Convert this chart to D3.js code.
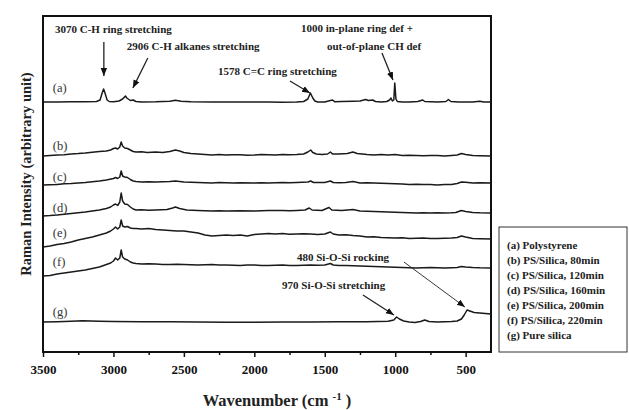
<!DOCTYPE html>
<html>
<head>
<meta charset="utf-8">
<script src="https://cdn.jsdelivr.net/npm/d3@7"></script>
<style>
  body { margin: 0; background: #fff; }
  svg { display: block; font-family: "Liberation Serif", "DejaVu Serif", serif; }
</style>
</head>
<body>
<svg id="chart" width="629" height="410"></svg>
<script>
// Raman spectra, [wavenumber, intensity above the trace's own offset]
const specA = [[3500,0],[3400,0],[3300,0.2],[3200,0.3],[3120,0.5],[3095,2],[3080,9],[3070,13],[3060,9],[3045,2],[3030,0.5],[3000,0.3],
  [2960,1],[2935,3],[2915,6],[2905,4],[2895,3],[2880,1.5],[2860,2],[2840,0.5],[2800,0],[2700,0.2],[2600,0.8],[2560,1.8],[2520,0.8],
  [2450,0.2],[2300,0],[2100,0],[1900,0],[1800,-0.3],[1700,0],[1650,0.5],[1620,3],[1602,9],[1585,4],[1570,1],[1550,0],[1500,0],
  [1460,1.5],[1445,2],[1430,0.3],[1380,0.5],[1300,0.8],[1250,1],[1210,2.5],[1190,1.5],[1160,2],[1140,0.5],[1100,0],[1060,0.5],
  [1040,2],[1030,4],[1020,1],[1010,2],[1003,19],[995,3],[985,0.5],[950,0],[900,0],[840,0.5],[805,2],[790,0.5],[700,0],[640,0.5],
  [622,2.5],[605,0.5],[550,0],[450,0],[400,0.8],[370,0],[320,0]];

const specB = [[3500,0],[3450,0.6],[3400,1],[3350,1.2],[3300,2],[3250,2.4],[3200,3],[3150,3.8],[3100,4.5],[3050,5],[3020,6],[3000,7.5],
  [2985,8],[2970,7],[2955,9],[2945,14],[2935,10],[2920,8],[2900,7.5],[2880,6],[2860,4.5],[2840,4],[2800,4.3],[2760,3.5],[2700,4],
  [2650,3.5],[2600,4.5],[2560,6],[2530,5],[2500,3.5],[2450,2.5],[2400,2],[2350,1.5],[2300,1],[2250,1.4],[2200,1],[2150,1.3],[2100,1.2],
  [2050,0.8],[2000,1],[1950,1.4],[1900,1.3],[1850,1.1],[1800,1.5],[1750,1.2],[1700,1.5],[1650,2],[1620,4],[1600,6],[1585,3.5],[1560,2],
  [1520,1.5],[1480,2],[1460,4],[1445,2],[1400,2],[1340,2.5],[1300,4],[1270,2.5],[1200,1.5],[1150,1],[1100,1.5],[1050,1],[1000,1.5],
  [950,0.5],[900,0.8],[850,0.5],[800,0.2],[750,0.6],[700,0.5],[650,0],[600,0.5],[560,1],[530,2.5],[500,1.5],[450,0.5],[400,0.3],[320,0]];

const specC = [[3500,-2],[3450,-1.8],[3400,-1.5],[3350,-0.8],[3300,-0.5],[3250,0],[3200,0.5],[3150,1.2],[3100,2],[3050,3],[3000,4.5],
  [2985,5.5],[2970,4.5],[2955,6],[2945,12],[2935,7],[2920,6],[2900,5.5],[2880,3.5],[2860,2],[2840,1.5],[2800,1],[2750,1.3],[2700,1],
  [2650,1.2],[2600,1.5],[2560,2],[2500,1],[2450,0.8],[2400,0.5],[2350,0.2],[2300,0],[2250,0.4],[2200,0.3],[2150,0],[2100,0.2],
  [2000,0],[1950,0.3],[1900,0.1],[1800,0.5],[1750,0.2],[1700,0.5],[1620,1],[1600,2],[1580,0.5],[1500,0.5],[1460,2],[1440,0.5],
  [1400,0.3],[1350,0.5],[1300,1.5],[1250,0],[1200,0.2],[1150,0],[1100,-0.3],[1050,-0.5],[1000,-0.8],[950,-1],[900,-1.5],[850,-1.2],
  [800,-1.6],[750,-1.5],[700,-2],[650,-1.6],[600,-1.5],[560,-0.5],[530,1],[500,0.8],[450,0],[400,0.2],[320,0]];

const specD = [[3500,-3],[3450,-2.6],[3400,-2],[3350,-1.2],[3300,-0.5],[3250,0.2],[3200,1],[3150,2],[3100,3],[3050,4.5],[3020,6],
  [3000,8],[2985,9],[2970,7.5],[2955,11],[2945,20],[2935,12],[2920,9],[2900,8.5],[2880,6],[2860,4],[2840,3],[2800,3.2],[2750,2.8],
  [2700,3],[2660,3.2],[2620,3.5],[2580,5],[2560,6],[2530,4.5],[2480,3],[2400,2.5],[2350,2.2],[2300,2],[2250,2.3],[2200,2],[2100,2.2],
  [2000,2],[1900,2.4],[1800,2.5],[1750,2.2],[1700,2.5],[1640,3],[1610,5],[1590,3],[1520,2.5],[1470,5.5],[1450,3],[1380,2.5],[1300,3.5],
  [1250,2],[1200,1.8],[1150,1.5],[1100,1.2],[1050,1],[1000,0.8],[950,0.5],[900,0.3],[850,0],[800,0.2],[750,0],[700,0.3],[650,0],
  [600,0.2],[570,0.5],[530,2.5],[500,1.5],[450,0.5],[400,0.2],[320,0]];

const specE = [[3500,-8],[3450,-7],[3400,-5.5],[3350,-4.5],[3300,-3],[3250,-1],[3200,0.5],[3150,2],[3100,4],[3050,6],[3020,8],
  [3000,10],[2985,12],[2970,10],[2955,12],[2945,19],[2935,13],[2920,12],[2900,12.5],[2880,11],[2860,10.5],[2840,10.5],[2800,10],
  [2750,10.5],[2700,9.5],[2650,9],[2600,8.5],[2550,8],[2500,8],[2450,7],[2400,6],[2350,4],[2300,3],[2250,3.5],[2200,4],[2150,3.5],
  [2100,4],[2050,3],[2000,4.5],[1950,5],[1900,5.5],[1850,5],[1800,5.5],[1750,4.8],[1700,5],[1650,5.3],[1600,5],[1550,4.5],[1500,5],
  [1460,7],[1440,5],[1400,4],[1350,4.2],[1300,3.5],[1250,3],[1200,2],[1150,2.2],[1100,1.5],[1050,1.2],[1000,1],[950,1.2],[900,0.5],
  [850,0.8],[800,1],[750,0.6],[700,0.5],[650,0.8],[600,1],[560,1.5],[530,3],[500,2],[450,0.5],[400,0.3],[320,0]];

const specF = [[3500,-8],[3450,-7.5],[3400,-6],[3350,-5],[3300,-4],[3250,-3],[3200,-2],[3150,-0.5],[3100,1],[3050,3.5],[3020,5],
  [3000,7],[2985,10],[2970,8],[2955,10],[2945,18],[2935,11],[2920,9],[2900,8],[2880,6],[2860,5],[2840,4.5],[2800,4],[2750,4.3],
  [2700,4],[2650,3.6],[2600,3.5],[2550,3.8],[2500,3.5],[2450,3.2],[2400,3],[2350,3.3],[2300,3.5],[2250,3.1],[2200,3],[2150,2.7],
  [2100,2.5],[2050,2.9],[2000,3],[1950,2.6],[1900,2.5],[1850,2.8],[1800,3],[1750,2.6],[1700,2.5],[1650,2.8],[1600,3],[1550,2.7],
  [1500,3],[1460,4.5],[1440,3],[1400,2.6],[1350,2.5],[1300,2.2],[1250,2],[1200,1.8],[1150,1.5],[1100,1.3],[1050,1],[1000,0.8],
  [950,0.5],[900,0.3],[850,0],[800,0.3],[750,0.5],[700,0.2],[650,0],[600,0.3],[560,0.5],[530,1.5],[500,1],[450,0.5],[400,0.2],[320,0]];

const specG = [[3500,0],[3400,0.3],[3300,0.8],[3220,1.2],[3100,0.8],[3000,0.5],[2800,0.3],[2600,0.2],[2400,0],[2200,-0.2],[2000,-0.3],
  [1800,0],[1600,0],[1400,0.2],[1200,0.3],[1050,0.8],[1010,2],[990,5],[970,3],[940,1],[900,0],[860,-0.5],[820,0.5],[790,2],[760,0.5],
  [700,0],[600,0.5],[560,1],[530,3],[510,7],[490,12],[470,11],[440,9.5],[400,9],[360,8.5],[320,8]];

const spectra = [specA, specB, specC, specD, specE, specF, specG];
const offsets = [250, 196, 169, 139, 113, 84, 30];
const seriesTags = ["(a)", "(b)", "(c)", "(d)", "(e)", "(f)", "(g)"];
const tagLift = [10, 6, 2, 1, 2, 2, 6];
const legendItems = ["(a) Polystyrene", "(b) PS/Silica, 80min", "(c) PS/Silica, 120min", "(d) PS/Silica, 160min",
  "(e) PS/Silica, 200min", "(f) PS/Silica, 220min", "(g) Pure silica"];

const majorTicks = [3500, 3000, 2500, 2000, 1500, 1000, 500];
const minorTicks = [3250, 2750, 2250, 1750, 1250, 750];

// peak annotations: text lines, arrow start / end in data units (wavenumber, intensity)
const notes = [
  { lines: ["3070 C-H ring stretching"], at: [3415, 319], from: [3068, 310], to: [3068, 276], w: 1.3 },
  { lines: ["2906 C-H alkanes stretching"], at: [2905, 302], from: [2756, 294], to: [2862, 264], w: 1.3 },
  { lines: ["1578 C=C ring stretching"], at: [2258, 277], from: [1747, 271], to: [1605, 259], w: 1.3 },
  { lines: ["1000 in-plane ring def +", "out-of-plane CH def"], at: [1669, 320], at2: [1484, 302], from: [1094, 299], to: [1016, 272], w: 1.3 },
  { lines: ["480 Si-O-Si rocking"], at: [1697, 91], from: [938, 90], to: [505, 45], w: 0.9 },
  { lines: ["970 Si-O-Si stretching"], at: [1803, 63], from: [1229, 57], to: [1009, 37], w: 1.3 }
];

const svg = d3.select("#chart");
const margin = { left: 43, right: 138, top: 16, bottom: 58 };
const W = 629, H = 410;

const x = d3.scaleLinear().domain([3500, 320]).range([margin.left, W - margin.right]);
const y = d3.scaleLinear().domain([0, 336]).range([H - margin.bottom, margin.top]);

svg.append("defs").append("marker")
  .attr("id", "arr")
  .attr("viewBox", "0 0 10 10")
  .attr("refX", 10).attr("refY", 5)
  .attr("markerUnits", "userSpaceOnUse")
  .attr("markerWidth", 8).attr("markerHeight", 8)
  .attr("orient", "auto")
  .append("path").attr("d", "M0,1L10,5L0,9Z").attr("fill", "#111");

// traces
spectra.forEach((s, i) => {
  const line = d3.line()
    .x(d => x(d[0]))
    .y(d => y(offsets[i] + d[1]));
  svg.append("path")
    .datum(s)
    .attr("d", line)
    .attr("fill", "none")
    .attr("stroke", "#1a1a1a")
    .attr("stroke-width", 1.5)
    .attr("stroke-linejoin", "round");

  svg.append("text")
    .attr("x", x(3430))
    .attr("y", y(offsets[i] + tagLift[i]))
    .attr("font-size", 12.5)
    .attr("fill", "#333")
    .text(seriesTags[i]);
});

// x axis
const xAxis = svg.append("g")
  .attr("transform", `translate(0,${H - margin.bottom})`)
  .call(d3.axisBottom(x).tickValues(majorTicks).tickSize(5).tickFormat(d3.format("d")));
xAxis.select(".domain").remove();
xAxis.selectAll("line").attr("stroke", "#111").attr("stroke-width", 1.5);
xAxis.selectAll("text")
  .attr("font-family", "Liberation Serif, serif")
  .attr("font-size", 13).attr("font-weight", "bold").attr("fill", "#111")
  .attr("dy", "1.05em");

svg.append("g")
  .attr("transform", `translate(0,${H - margin.bottom})`)
  .call(d3.axisBottom(x).tickValues(minorTicks).tickSize(3).tickFormat(""))
  .call(g => g.select(".domain").remove())
  .selectAll("line").attr("stroke", "#111").attr("stroke-width", 1.5);

// frame
svg.append("rect")
  .attr("x", margin.left).attr("y", margin.top)
  .attr("width", W - margin.left - margin.right)
  .attr("height", H - margin.top - margin.bottom)
  .attr("fill", "none").attr("stroke", "#111").attr("stroke-width", 2);

// annotations
notes.forEach(n => {
  svg.append("text")
    .attr("x", x(n.at[0])).attr("y", y(n.at[1]))
    .attr("font-size", 11).attr("font-weight", "bold").attr("fill", "#222")
    .text(n.lines[0]);
  if (n.lines[1]) {
    svg.append("text")
      .attr("x", x(n.at2[0])).attr("y", y(n.at2[1]))
      .attr("font-size", 11).attr("font-weight", "bold").attr("fill", "#222")
      .text(n.lines[1]);
  }
  svg.append("line")
    .attr("x1", x(n.from[0])).attr("y1", y(n.from[1]))
    .attr("x2", x(n.to[0])).attr("y2", y(n.to[1]))
    .attr("stroke", "#222").attr("stroke-width", n.w)
    .attr("marker-end", "url(#arr)");
});

// legend box
const lg = svg.append("g").attr("transform", "translate(499,227)");
lg.append("rect")
  .attr("x", 0).attr("y", 0).attr("width", 128).attr("height", 125)
  .attr("fill", "#fff").attr("stroke", "#333").attr("stroke-width", 1);
lg.selectAll("text.leg")
  .data(legendItems)
  .join("text")
  .attr("class", "leg")
  .attr("x", 8)
  .attr("y", (d, i) => 22 + i * 15)
  .attr("font-size", 11).attr("font-weight", "bold").attr("fill", "#222")
  .text(d => d);

// axis titles
svg.append("text")
  .attr("transform", "translate(31,174) rotate(-90)")
  .attr("text-anchor", "middle")
  .attr("font-size", 14.5).attr("font-weight", "bold").attr("fill", "#222")
  .text("Raman Intensity (arbitrary unit)");

const xt = svg.append("text")
  .attr("x", x(1839)).attr("y", 406)
  .attr("text-anchor", "middle")
  .attr("font-size", 16.5).attr("font-weight", "bold").attr("fill", "#222");
xt.append("tspan").text("Wavenumber (cm ");
xt.append("tspan").attr("font-size", 11).attr("dy", -6).text("-1");
xt.append("tspan").attr("dy", 6).text(" )");
</script>
</body>
</html>
